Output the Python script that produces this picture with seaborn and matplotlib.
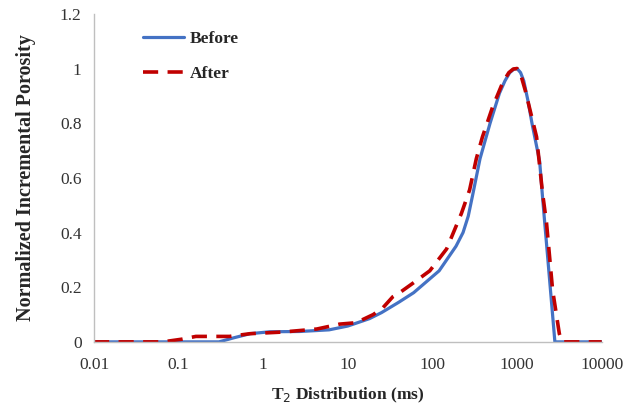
import matplotlib
matplotlib.use("Agg")
import matplotlib.pyplot as plt
import seaborn as sns
import pandas as pd

# T2 distribution curves
t2_before = [0.01, 0.3, 0.45, 0.7, 1.2, 2.7, 6, 10, 18, 25, 40, 60, 120, 190, 230,
             265, 300, 365, 480, 620, 720, 820, 920, 1000, 1100, 1200, 1350, 1500,
             1850, 2000, 2300, 2800, 10000]
por_before = [0, 0, 0.015, 0.03, 0.037, 0.038, 0.044, 0.058, 0.085, 0.107, 0.145, 0.18,
              0.26, 0.35, 0.40, 0.46, 0.54, 0.67, 0.80, 0.91, 0.955, 0.985, 0.998, 1.0,
              0.985, 0.955, 0.88, 0.80, 0.66, 0.53, 0.31, 0, 0]

t2_after = [0.01, 0.065, 0.11, 0.16, 0.4, 0.7, 1.7, 4.3, 8, 12.5, 20, 26, 34, 41, 59,
            93, 147, 220, 275, 330, 390, 515, 680, 800, 900, 1000, 1100, 1250, 1700,
            2000, 2230, 2630, 3160, 3400, 10000]
por_after = [0, 0, 0.01, 0.02, 0.02, 0.03, 0.036, 0.047, 0.065, 0.07, 0.1, 0.125, 0.165,
             0.18, 0.215, 0.26, 0.34, 0.47, 0.556, 0.67, 0.75, 0.86, 0.95, 0.985, 0.998,
             1.0, 0.98, 0.92, 0.75, 0.545, 0.435, 0.19, 0.03, 0, 0]

x_ticks = [0.01, 0.1, 1, 10, 100, 1000, 10000]
x_tick_labels = ["0.01", "0.1", "1", "10", "100", "1000", "10000"]
y_ticks = [0, 0.2, 0.4, 0.6, 0.8, 1.0, 1.2]
y_tick_labels = ["0", "0.2", "0.4", "0.6", "0.8", "1", "1.2"]

sns.set_style("white")
plt.rcParams["font.family"] = ["Liberation Serif", "DejaVu Serif"]

fig = plt.figure(figsize=(6.33, 4.07), dpi=100)
ax = fig.add_axes([0.1485, 0.16, 0.802, 0.806])

before_df = pd.DataFrame({"T2": t2_before, "Porosity": por_before})
after_df = pd.DataFrame({"T2": t2_after, "Porosity": por_after})

sns.lineplot(data=before_df, x="T2", y="Porosity", ax=ax, color="#4472C4",
             linewidth=2.3, label="Before", sort=False)
sns.lineplot(data=after_df, x="T2", y="Porosity", ax=ax, color="#C00000",
             linewidth=2.6, label="After", sort=False)
ax.lines[1].set_dashes([4.2, 2.6])

ax.set_xscale("log")
ax.set_xlim(0.01, 10000)
ax.set_ylim(0, 1.2)
ax.set_xticks(x_ticks)
ax.set_xticklabels(x_tick_labels)
ax.set_yticks(y_ticks)
ax.set_yticklabels(y_tick_labels)
ax.minorticks_off()
ax.tick_params(axis="both", labelsize=12.5, colors="#333333")
ax.tick_params(axis="y", length=4, width=0.8, color="#BFBFBF", pad=5)
ax.tick_params(axis="x", length=0, pad=11)

for side in ["top", "right"]:
    ax.spines[side].set_visible(False)
for side in ["left", "bottom"]:
    ax.spines[side].set_color("#BFBFBF")
    ax.spines[side].set_linewidth(1.0)

ax.set_xlabel("T$_2$ Distribution (ms)", fontsize=12.5, fontweight="bold", labelpad=9)
ax.set_ylabel("Normalized Incremental Porosity", fontsize=14.5, fontweight="bold",
              labelpad=17)

leg = ax.legend(loc="upper left", bbox_to_anchor=(0.065, 0.995), frameon=False,
                prop={"weight": "bold", "size": 12.5}, handlelength=2.4,
                labelspacing=1.05, handletextpad=0.3)

fig.savefig("out.png", dpi=100)
